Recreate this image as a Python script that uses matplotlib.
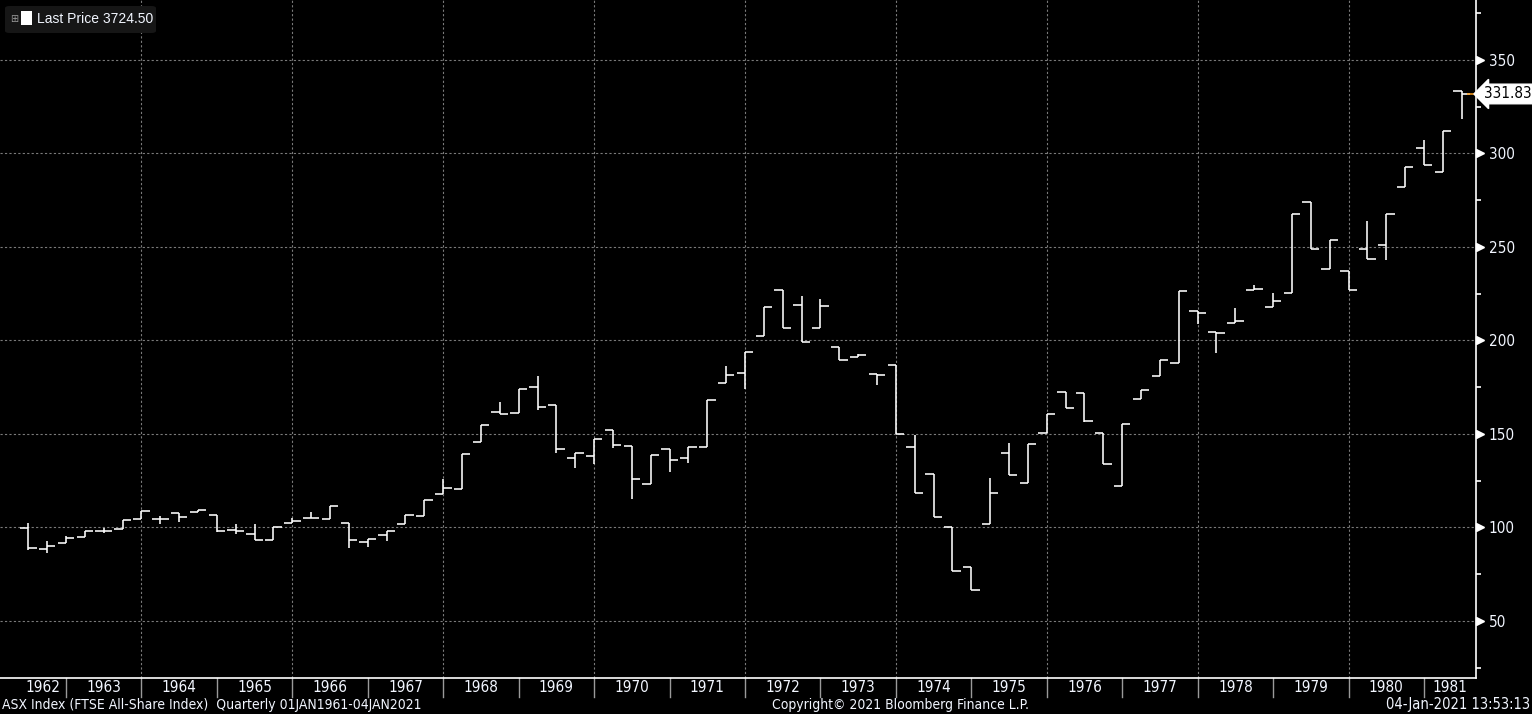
import matplotlib
matplotlib.use('Agg')
import matplotlib.pyplot as plt
from matplotlib import font_manager as fm
from matplotlib.patches import FancyBboxPatch, Rectangle
from matplotlib.transforms import blended_transform_factory, offset_copy

# quarterly bars, 1962 Q3 .. 1981 Q3 (positions in fractional years)
quarters = [1962.5 + 0.25 * i for i in range(77)]
opens = [99.6, 88.3, 91.5, 94.7, 98.0, 99.0, 104.6, 104.6, 107.6, 108.1,
         106.5, 98.5, 96.4, 93.1, 102.2, 104.9, 104.4, 102.2, 92.1, 95.8,
         101.7, 106.0, 117.8, 120.5, 145.6, 161.7, 161.2, 175.1, 165.5, 137.1,
         138.1, 152.1, 143.5, 123.1, 141.9, 137.1, 143.0, 177.2, 182.6, 202.4,
         227.1, 219.0, 206.7, 196.5, 191.2, 182.1, 186.9, 143.0, 128.5, 100.1,
         78.7, 101.7, 139.7, 123.7, 150.5, 172.4, 171.9, 150.5, 122.2, 168.7,
         181.0, 188.0, 215.8, 204.6, 209.4, 227.1, 218.0, 225.5, 274.2, 238.4,
         237.0, 249.1, 251.1, 281.8, 302.9, 289.9, 333.4]
highs = [102.3, 92.8, 95.4, 98.1, 99.4, 104.0, 108.8, 105.8, 107.6, 109.4,
         106.5, 101.9, 101.9, 100.1, 105.1, 108.3, 111.4, 102.2, 93.7, 98.0,
         106.5, 114.7, 125.8, 139.4, 154.9, 167.2, 174.0, 181.2, 165.5, 139.7,
         147.2, 152.1, 143.5, 138.7, 141.9, 143.0, 168.1, 186.5, 193.9, 218.0,
         227.1, 223.5, 222.4, 196.5, 192.8, 182.1, 186.9, 149.4, 128.5, 100.1,
         78.7, 126.4, 145.1, 144.6, 160.6, 172.4, 171.9, 150.5, 155.3, 173.5,
         189.6, 226.5, 215.8, 204.6, 217.6, 229.4, 225.1, 267.4, 274.2, 253.9,
         237.0, 263.8, 267.4, 292.5, 307.2, 311.8, 333.4]
lows = [87.9, 86.5, 91.5, 94.7, 97.2, 99.0, 104.6, 102.0, 102.6, 108.1,
        97.4, 96.7, 93.1, 93.1, 102.2, 104.9, 104.4, 89.2, 89.7, 92.9,
        101.7, 106.0, 117.8, 120.5, 145.6, 160.4, 161.2, 162.9, 139.5, 131.5,
        134.0, 142.2, 114.9, 123.1, 129.4, 134.2, 143.0, 177.2, 174.2, 202.4,
        206.7, 199.2, 206.7, 189.6, 191.2, 176.0, 149.9, 118.3, 105.5, 76.5,
        66.4, 101.7, 128.0, 123.7, 150.5, 163.9, 156.1, 133.9, 122.2, 168.7,
        181.0, 188.0, 209.0, 193.5, 209.4, 227.1, 218.0, 225.5, 249.0, 238.4,
        227.2, 243.8, 243.2, 281.8, 293.6, 289.9, 318.2]
closes = [88.9, 90.1, 94.2, 98.0, 98.0, 104.0, 108.8, 104.6, 105.5, 109.4,
          98.0, 98.0, 93.1, 100.1, 103.3, 104.9, 111.4, 93.1, 93.7, 98.0,
          106.5, 114.7, 121.0, 139.4, 154.9, 160.4, 174.0, 164.2, 141.9, 139.7,
          147.2, 144.0, 125.8, 138.7, 136.0, 143.0, 168.1, 181.5, 193.9, 218.0,
          206.7, 199.2, 218.5, 189.6, 192.2, 181.5, 149.9, 118.3, 105.5, 76.5,
          66.4, 118.3, 128.0, 144.6, 160.6, 163.9, 156.9, 133.9, 155.3, 173.5,
          189.6, 226.5, 214.7, 204.0, 210.5, 227.6, 221.2, 267.4, 249.0, 253.9,
          227.2, 243.8, 267.4, 292.5, 293.6, 311.8, 331.83]

years = list(range(1962, 1982))
grid_years = list(range(1964, 1981, 2))
y_major = [50, 100, 150, 200, 250, 300, 350]
y_minor = [25, 75, 125, 175, 225, 275, 325, 375]
last_price = '3724.50'

# look for a narrow face (Bloomberg uses a condensed font); else shrink the regular one
narrow_path = None
for f in fm.fontManager.ttflist:
    n = (f.name + ' ' + f.fname).lower()
    if ('narrow' in n or 'condensed' in n) and 'bold' not in n and 'oblique' not in n \
            and 'italic' not in n and f.weight in (400, 'normal', 'regular'):
        narrow_path = f.fname
        break
if narrow_path:
    def nfont(size):
        return fm.FontProperties(fname=narrow_path, size=size)
    sz = 11
else:
    def nfont(size):
        return fm.FontProperties(family='DejaVu Sans', size=size)
    sz = 9.6

white = '#f2f6ff'

fig = plt.figure(figsize=(15.32, 7.14), dpi=100, facecolor='black')
ax = fig.add_axes([0, 1 - 678 / 714, 1476 / 1532, 678 / 714])
ax.set_facecolor('black')
ax.set_xlim(1962.125, 1981.69)
ax.set_ylim(19.4, 382.1)

# grid
for v in y_major:
    ax.axhline(v, color='#7a7a7a', lw=0.8, ls=(0, (2, 2)), zorder=1)
for g in grid_years:
    ax.axvline(g, color='#7a7a7a', lw=0.8, ls=(0, (2, 2)), zorder=1)

# OHLC bars
tick = 0.11
ax.vlines(quarters, lows, highs, color='white', lw=1.15, zorder=3)
ax.hlines(opens, [q - tick for q in quarters], quarters, color='white', lw=1.15, zorder=3)
ax.hlines(closes, quarters, [q + tick for q in quarters], color='white', lw=1.15, zorder=3)
ax.hlines(closes[-1], quarters[-1] + tick * 0.6, ax.get_xlim()[1], color='#ff9f1c', lw=1.1, zorder=3)

# spines
for s in ['top', 'left']:
    ax.spines[s].set_visible(False)
for s in ['right', 'bottom']:
    ax.spines[s].set_color('white')
    ax.spines[s].set_linewidth(1.2)

ax.set_xticks([])
ax.yaxis.tick_right()
ax.set_yticks(y_major)
ax.set_yticklabels([str(v) for v in y_major])
ax.set_yticks(y_minor, minor=True)
ax.tick_params(axis='y', which='major', length=0, pad=9, labelcolor=white)
ax.tick_params(axis='y', which='minor', length=3.5, width=1.2, color='white')
for lab in ax.get_yticklabels():
    lab.set_fontproperties(nfont(sz))

# triangle markers at major ticks
tr = offset_copy(blended_transform_factory(ax.transAxes, ax.transData), fig=fig, x=3, y=0, units='points')
ax.plot([1.0] * len(y_major), y_major, ls='none', marker='>', ms=5.5, color='white',
        transform=tr, clip_on=False, zorder=5)

# last value label
ax.annotate(f'{closes[-1]:.2f}', xy=(1.0, closes[-1]),
            xycoords=blended_transform_factory(ax.transAxes, ax.transData),
            xytext=(6, 0), textcoords='offset points', ha='left', va='center',
            fontproperties=nfont(sz), color='black', annotation_clip=False,
            bbox=dict(boxstyle='larrow,pad=0.15', fc='white', ec='white'))

# year labels row
bt = blended_transform_factory(ax.transData, ax.transAxes)
xmin, xmax = ax.get_xlim()
for y in years:
    lo = max(y, 1962.4)
    hi = min(y + 1, xmax)
    ax.text((lo + hi) / 2, -10 / 678, str(y), transform=bt, ha='center', va='center',
            color=white, fontproperties=nfont(sz), clip_on=False)
for y in years[1:]:
    ax.plot([y, y], [0, -19 / 678], color='#9a9a9a', lw=1.0, transform=bt, clip_on=False)

# footer
fy = 1 - 705 / 714
fig.text(2 / 1532, fy, 'ASX Index (FTSE All-Share Index)  Quarterly 01JAN1961-04JAN2021',
         ha='left', va='center', color=white, fontproperties=nfont(sz - 1))
fig.text(900 / 1532, fy, 'Copyright\u00a9 2021 Bloomberg Finance L.P.',
         ha='center', va='center', color=white, fontproperties=nfont(sz - 1))
fig.text(1530 / 1532, fy, '04-Jan-2021 13:53:13',
         ha='right', va='center', color=white, fontproperties=nfont(sz - 0.5))

# legend box
W, H = 1532, 714
fig.patches.append(FancyBboxPatch((5 / W, 1 - 33 / H), 151 / W, 27 / H,
                                  boxstyle='round,pad=0,rounding_size=0.003',
                                  transform=fig.transFigure, fc='#161616', ec='none', zorder=5))
fig.text(14 / W, 1 - 19 / H, '\u229e', ha='center', va='center', color='#9a9a9a',
         fontsize=7, family='DejaVu Sans', zorder=6)
fig.patches.append(Rectangle((21 / W, 1 - 25 / H), 11 / W, 14 / H, transform=fig.transFigure,
                             fc='white', ec='none', zorder=6))
fig.text(37 / W, 1 - 19 / H, f'Last Price {last_price}', ha='left', va='center',
         color=white, fontsize=10, family='Liberation Sans', zorder=6)

fig.savefig('out.png', dpi=100, facecolor='black')
